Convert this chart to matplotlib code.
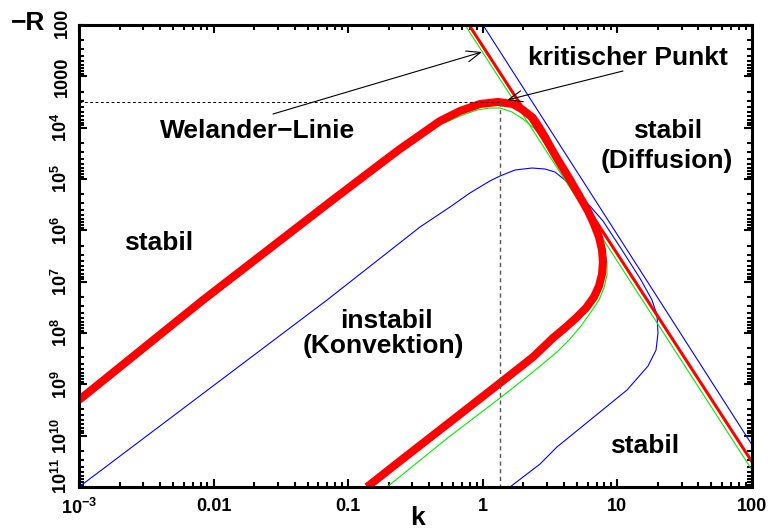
import matplotlib
matplotlib.use('Agg')
import matplotlib.pyplot as plt
import matplotlib.transforms as mtransforms
from matplotlib.ticker import LogLocator, NullFormatter, FixedLocator, FixedFormatter

plt.rcParams['font.family'] = ['Liberation Sans', 'DejaVu Sans']
plt.rcParams['font.weight'] = 'bold'
plt.rcParams['mathtext.fontset'] = 'custom'
plt.rcParams['mathtext.rm'] = 'Liberation Sans:bold'
plt.rcParams['mathtext.bf'] = 'Liberation Sans:bold'
plt.rcParams['mathtext.it'] = 'Liberation Sans:bold'
plt.rcParams['mathtext.default'] = 'bf'

# ---------------- data ----------------
# thick red stability curve
red_k = [0.001, 0.00834, 0.0732, 0.1722, 0.2425, 0.3415, 0.4808, 0.6769, 0.9532,
         1.297, 1.677, 1.989, 2.360, 2.615, 2.898, 3.211, 3.620, 4.370, 5.274,
         6.047, 6.702, 7.300, 7.685, 7.816, 7.685, 7.300, 6.702, 5.843, 4.925,
         4.151, 3.322, 2.360, 1.342, 0.5706, 0.2425, 0.1379]
red_R = [2.02e9, 2.28e7, 2.81e5, 5.11e4, 2.60e4, 1.39e4, 7.42e3, 4.74e3, 3.46e3,
         3.16e3, 3.46e3, 4.53e3, 6.48e3, 9.71e3, 1.52e4, 2.49e4, 4.27e4, 9.56e4, 2.24e5,
         4.20e5, 7.53e5, 1.35e6, 2.42e6, 4.14e6, 7.10e6, 1.22e7, 1.99e7, 3.26e7, 5.11e7,
         7.65e7, 1.25e8, 2.94e8, 9.43e8, 5.43e9, 3.12e10, 1.0e11]

# green stability curve
green_k = [0.001, 0.00834, 0.0732, 0.1722, 0.2425, 0.3415, 0.4808, 0.6769, 0.9055,
           1.131, 1.342, 1.648, 1.989, 2.443, 2.999, 3.499, 4.222, 5.097, 6.152,
           7.177, 7.950, 8.369, 8.369, 7.950, 7.300, 6.365, 5.365, 4.444, 3.558,
           2.360, 1.342, 0.5706, 0.1942]
green_R = [2.02e9, 2.28e7, 2.81e5, 5.34e4, 2.85e4, 1.52e4, 8.88e3, 5.93e3, 4.53e3,
           4.14e3, 4.14e3, 4.95e3, 6.78e3, 1.06e4, 1.82e4, 3.41e4, 7.64e4, 1.87e5, 4.40e5,
           9.86e5, 2.11e6, 4.33e6, 7.42e6, 1.33e7, 2.28e7, 3.90e7, 7.31e7, 1.31e8, 2.35e8,
           5.76e8, 1.85e9, 1.02e10, 1.0e11]

# blue stability curve
blue_k = [0.001, 0.0696, 0.3415, 0.5706, 0.8032, 1.131, 1.342, 1.735, 2.320,
          2.898, 3.439, 4.151, 5.274, 6.257, 7.816, 10.82, 14.98, 18.08, 19.69,
          20.03, 19.36, 16.88, 11.79, 7.426, 3.558, 2.661, 1.593]
blue_R = [1.0e11, 2.28e7, 8.62e5, 3.51e5, 1.87e5, 1.09e5, 8.74e4, 6.68e4, 6.11e4,
          6.39e4, 7.31e4, 1.09e5, 2.15e5, 3.36e5, 6.58e5, 2.42e6, 9.29e6, 2.28e7, 4.46e7,
          1.0e8, 2.15e8, 4.40e8, 1.29e9, 3.46e9, 1.66e10, 3.57e10, 1.0e11]

# straight diffusion lines (end points)
red_line_k = [0.790, 100.0]
red_line_R = [100.0, 3.24e10]
green_line_k = [0.738, 100.0]
green_line_R = [100.0, 4.68e10]
blue_line_k = [1.003, 100.0]
blue_line_R = [100.0, 1.51e10]

# critical point
crit_k = 1.34
crit_R = 3.16e3

x_ticks = [1e-3, 1e-2, 1e-1, 1, 10, 100]
x_ticklabels = [r'$\mathbf{10^{-3}}$', '0.01', '0.1', '1', '10', '100']
y_ticks = [1e2, 1e3, 1e4, 1e5, 1e6, 1e7, 1e8, 1e9, 1e10, 1e11]
y_ticklabels = ['100', '1000', r'$\mathbf{10^{4}}$', r'$\mathbf{10^{5}}$',
                r'$\mathbf{10^{6}}$', r'$\mathbf{10^{7}}$', r'$\mathbf{10^{8}}$',
                r'$\mathbf{10^{9}}$', r'$\mathbf{10^{10}}$', r'$\mathbf{10^{11}}$']

# ---------------- figure ----------------
W, H = 768, 531
fig = plt.figure(figsize=(W / 100, H / 100), dpi=100)
ax = fig.add_axes([79 / W, 1 - 487 / H, 673 / W, 462 / H])
ax.set_xscale('log')
ax.set_yscale('log')
ax.set_xlim(1e-3, 100)
ax.set_ylim(1e11, 1e2)

ax.plot(blue_line_k, blue_line_R, color='#0000ff', lw=0.8)
ax.plot(blue_k, blue_R, color='#0000ff', lw=0.8)
ax.plot(green_line_k, green_line_R, color='#00ee00', lw=0.8)
ax.plot(green_k, green_R, color='#00ee00', lw=0.8)
ax.plot(red_line_k, red_line_R, color='#ff0000', lw=2.2)
ax.plot(red_k, red_R, color='#ff0000', lw=5.8, solid_joinstyle='round',
        solid_capstyle='butt')

ax.plot([1e-3, crit_k], [crit_R, crit_R], color='black', lw=0.7, dashes=(3, 2.5))
ax.plot([crit_k, crit_k], [crit_R, 1e11], color='#555555', lw=1.0, dashes=(3, 2.5))

for s in ax.spines.values():
    s.set_linewidth(2.2)

ax.xaxis.set_major_locator(FixedLocator(x_ticks))
ax.xaxis.set_major_formatter(FixedFormatter(x_ticklabels))
ax.yaxis.set_major_locator(FixedLocator(y_ticks))
ax.yaxis.set_major_formatter(NullFormatter())
ax.xaxis.set_minor_locator(LogLocator(base=10, subs=range(2, 10), numticks=20))
ax.yaxis.set_minor_locator(LogLocator(base=10, subs=range(2, 10), numticks=20))
ax.xaxis.set_minor_formatter(NullFormatter())
ax.yaxis.set_minor_formatter(NullFormatter())
ax.tick_params(which='both', direction='in', top=True, right=True, width=1.5)
ax.tick_params(which='major', length=6, labelsize=13, pad=8)
ax.tick_params(which='minor', length=3.5)
for lab in ax.get_xticklabels():
    lab.set_fontweight('bold')

# y tick labels (rotated, the lowest one lifted clear of the x labels)
for v, lab in zip(y_ticks, y_ticklabels):
    dy = 8 if v == y_ticks[-1] else (1.5 if v == y_ticks[0] else 0)
    tr = mtransforms.offset_copy(ax.get_yaxis_transform(), fig=fig, x=-6, y=dy,
                                 units='points')
    ax.text(0, v, lab, transform=tr, rotation=90, ha='right', va='center',
            fontsize=13, fontweight='bold', clip_on=False)


def fx(x):
    return x / W


def fy(y):
    return 1 - y / H


fs = 19
kw = dict(fontsize=fs, fontweight='bold', ha='center', va='baseline')
fig.text(fx(28), fy(30), '\u2212R', **kw)
fig.text(fx(418), fy(525), 'k', **kw)
fig.text(fx(257.5), fy(138), 'Welander\u2212Linie', **kw)
fig.text(fx(627.5), fy(65), 'kritischer Punkt', **kw)
fig.text(fx(668), fy(138), 'stabil', **kw)
fig.text(fx(666.5), fy(168), '(Diffusion)', **kw)
fig.text(fx(159), fy(250), 'stabil', **kw)
fig.text(fx(386), fy(328.5), 'instabil', **kw)
fig.text(fx(383), fy(353), '(Konvektion)', **kw)
fig.text(fx(645), fy(453), 'stabil', **kw)

arrow = dict(arrowstyle='->,head_length=0.5,head_width=0.2', lw=0.8, color='black',
             shrinkA=0, shrinkB=0, mutation_scale=20)
ax.annotate('', xy=(482, H - 52), xytext=(273, H - 114), xycoords='figure pixels',
            textcoords='figure pixels', arrowprops=arrow)
ax.annotate('', xy=(507, H - 100), xytext=(623, H - 71), xycoords='figure pixels',
            textcoords='figure pixels', arrowprops=arrow)

fig.savefig('out.png', dpi=100)
